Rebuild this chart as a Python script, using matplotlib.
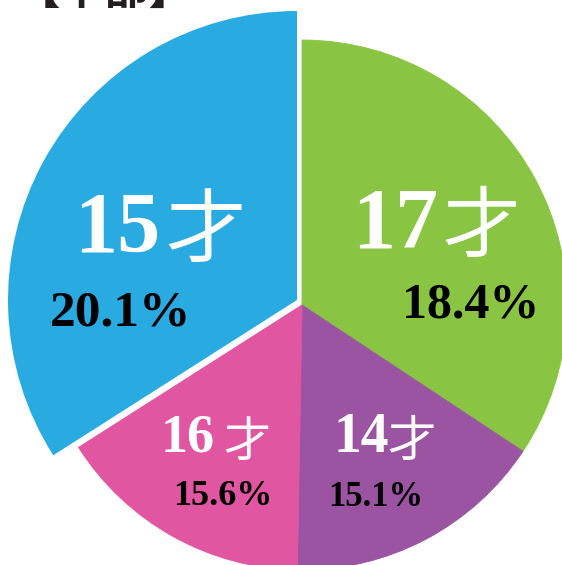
import matplotlib.pyplot as plt

# slices read clockwise from 12 o'clock
ages = ["17", "14", "16", "15"]
unit = "才"
pct_labels = ["18.4%", "15.1%", "15.6%", "20.1%"]
slice_deg = [123.5, 57.5, 56.5, 122.5]   # drawn slice sizes (degrees) as seen in the picture
colors = ["#89C442", "#9B54A2", "#E056A0", "#29ABE2"]
title = "【中部】"

W, H = 562, 565
fig = plt.figure(figsize=(W / 100, H / 100), dpi=100)
ax = fig.add_axes([0, 0, 1, 1])

wedges, _ = ax.pie(slice_deg, colors=colors, startangle=90, counterclock=False,
                   center=(302, 260), radius=265)
for w in wedges:
    w.set_edgecolor(w.get_facecolor())
    w.set_linewidth(0.6)
# the 15才 slice is pulled out and drawn larger
wedges[3].set_center((297, 265))
wedges[3].set_radius(289)
wedges[3].set_edgecolor("white")
wedges[3].set_linewidth(0)

ax.set_xlim(0, W)
ax.set_ylim(0, H)
ax.axis("off")

serif = "Liberation Serif"
cjk = "Noto Sans CJK JP"

# (number x, 才 x, baseline y from top, number size, 才 size)
age_pos = [(395, 481, 247, 62, 56),
           (361, 412, 452, 40, 35),
           (188, 247, 452, 39, 34),
           (117, 206, 252, 62, 58)]
pct_pos = [(471, 317, 36), (376, 506, 25), (223, 505, 26), (121, 325, 37)]

for a, (nx, ux, by, ns, us) in zip(ages, age_pos):
    ax.text(nx, H - by, a, ha="center", va="baseline", color="white",
            fontsize=ns, fontweight="bold", family=serif)
    ax.text(ux, H - by - 4, unit, ha="center", va="baseline", color="white",
            fontsize=us, family=cjk)

for p, (px, by, ps) in zip(pct_labels, pct_pos):
    ax.text(px, H - by, p, ha="center", va="baseline", color="black",
            fontsize=ps, fontweight="bold", family=serif)

ax.text(105, H - 5, title, ha="center", va="baseline", color="#231F20",
        fontsize=32, fontweight="bold", family=[cjk, "DejaVu Sans"])

fig.savefig("out.png", dpi=100)
